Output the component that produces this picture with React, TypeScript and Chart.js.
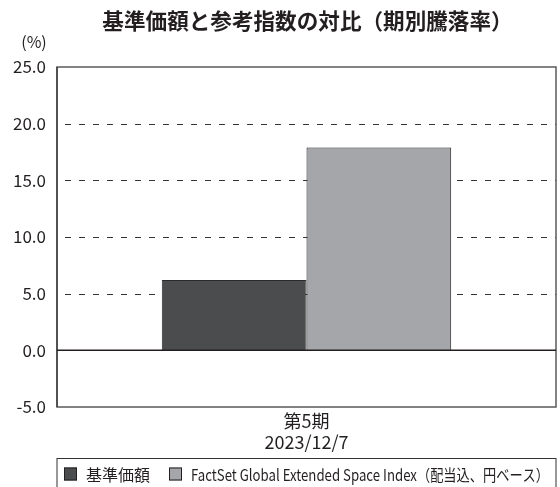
import React, { useEffect, useRef } from "react";
import { Chart, registerables } from "chart.js";

Chart.register(...registerables);

const TITLE = "基準価額と参考指数の対比（期別騰落率）";
const UNIT_LABEL = "(%)";
const CATEGORIES = [["第5期", "2023/12/7"]];
const SERIES_NAMES = ["基準価額", "FactSet Global Extended Space Index（配当込、円ベース）"];
const FUND_VALUES = [6.2];
const INDEX_VALUES = [17.9];
const Y_MIN = -5;
const Y_MAX = 25;
const Y_STEP = 5;

const FONT = '"Noto Sans CJK JP", "Noto Sans", sans-serif';
const COLORS = ["#4b4c4e", "#a5a6a9"];

const decor = {
  id: "decor",
  beforeDatasetsDraw(chart: any) {
    const { ctx, chartArea: a, scales } = chart;
    const y = scales.y;
    ctx.save();
    ctx.strokeStyle = "#333333";
    ctx.lineWidth = 1;
    ctx.setLineDash([6, 8]);
    ctx.lineDashOffset = 6;
    for (const t of y.ticks) {
      const v = t.value;
      if (v === Y_MIN || v === Y_MAX || v === 0) continue;
      const py = Math.round(y.getPixelForValue(v)) + 0.5;
      ctx.beginPath();
      ctx.moveTo(a.left, py);
      ctx.lineTo(a.right, py);
      ctx.stroke();
    }
    ctx.restore();
  },
  afterDatasetsDraw(chart: any) {
    const { ctx, chartArea: a, scales } = chart;
    const y = scales.y;
    ctx.save();
    ctx.strokeStyle = "#5a5a5a";
    ctx.lineWidth = 1.5;
    ctx.strokeRect(a.left, a.top, a.right - a.left, a.bottom - a.top);
    ctx.strokeStyle = "#333333";
    ctx.lineWidth = 1.2;
    ctx.beginPath();
    ctx.moveTo(a.left, a.top);
    ctx.lineTo(a.left, a.bottom);
    ctx.stroke();
    const z = y.getPixelForValue(0);
    ctx.strokeStyle = "#231f20";
    ctx.lineWidth = 1.5;
    ctx.beginPath();
    ctx.moveTo(a.left, z);
    ctx.lineTo(a.right, z);
    ctx.stroke();
    ctx.restore();
  },
  afterDraw(chart: any) {
    const { ctx, chartArea: a } = chart;
    const cx = (a.left + a.right) / 2;
    ctx.save();
    ctx.fillStyle = "#231f20";
    ctx.font = `bold 21.6px ${FONT}`;
    ctx.textAlign = "center";
    ctx.textBaseline = "middle";
    ctx.fillText(TITLE, cx + 1, 21);
    ctx.font = `16px ${FONT}`;
    ctx.fillText(UNIT_LABEL, 34, 42);
    // legend
    const boxL = a.left;
    const boxR = a.right;
    const boxT = 458.5;
    ctx.strokeStyle = "#333333";
    ctx.lineWidth = 1;
    ctx.strokeRect(boxL, boxT, boxR - boxL, 40);
    ctx.font = `16px ${FONT}`;
    const sq = 13;
    const gapText = 9;
    const gapItem = 19;
    const maxW = [80, 358];
    const textW = chart.data.datasets.map((d: any, i: number) => Math.min(ctx.measureText(d.label).width, maxW[i]));
    const widths = textW.map((w: number) => sq + gapText + w);
    const total = widths.reduce((s: number, w: number) => s + w, 0) + gapItem * (widths.length - 1);
    let x = (boxL + boxR) / 2 - total / 2;
    const my = 474;
    chart.data.datasets.forEach((d: any, i: number) => {
      ctx.fillStyle = d.backgroundColor;
      ctx.fillRect(x, my - sq / 2, sq, sq);
      ctx.strokeStyle = "#231f20";
      ctx.lineWidth = 1;
      ctx.strokeRect(x + 0.5, my - sq / 2 + 0.5, sq - 1, sq - 1);
      ctx.fillStyle = "#231f20";
      ctx.textAlign = "left";
      ctx.textBaseline = "middle";
      ctx.fillText(d.label, x + sq + gapText, my + 1, textW[i]);
      x += widths[i] + gapItem;
    });
    ctx.restore();
  },
};

export default function App() {
  const ref = useRef<HTMLCanvasElement>(null);
  useEffect(() => {
    if (!ref.current) return;
    const chart = new Chart(ref.current, {
      type: "bar",
      data: {
        labels: CATEGORIES,
        datasets: [
          {
            label: SERIES_NAMES[0],
            data: FUND_VALUES,
            backgroundColor: COLORS[0],
            borderColor: "#2b2b2b",
            borderWidth: 1,
          },
          {
            label: SERIES_NAMES[1],
            data: INDEX_VALUES,
            backgroundColor: COLORS[1],
            borderColor: "#231f20",
            borderWidth: 1,
          },
        ],
      },
      options: {
        responsive: false,
        animation: false,
        layout: { padding: { top: 67, right: 4, bottom: 30, left: 0 } },
        plugins: {
          legend: { display: false },
          title: { display: false },
          tooltip: { enabled: false },
        },
        datasets: { bar: { categoryPercentage: 0.58, barPercentage: 1 } },
        scales: {
          x: {
            grid: { display: false, drawTicks: false },
            border: { display: false },
            ticks: {
              color: "#231f20",
              font: { family: FONT, size: 18, lineHeight: 1.2 },
              padding: 3,
              maxRotation: 0,
            },
            afterFit(scale: any) {
              scale.height = 50;
            },
          },
          y: {
            min: Y_MIN,
            max: Y_MAX,
            grid: { display: false, drawTicks: false },
            border: { display: false },
            ticks: {
              stepSize: Y_STEP,
              color: "#231f20",
              font: { family: FONT, size: 17 },
              padding: 11,
              callback: (v: any) => Number(v).toFixed(1),
            },
            afterFit(scale: any) {
              scale.width = 57;
            },
          },
        },
      },
      plugins: [decor],
    });
    return () => chart.destroy();
  }, []);
  return (
    <div style={{ position: "absolute", left: 0, top: 0, width: 560, height: 487, background: "#fff" }}>
      <canvas ref={ref} width={560} height={487} />
    </div>
  );
}
